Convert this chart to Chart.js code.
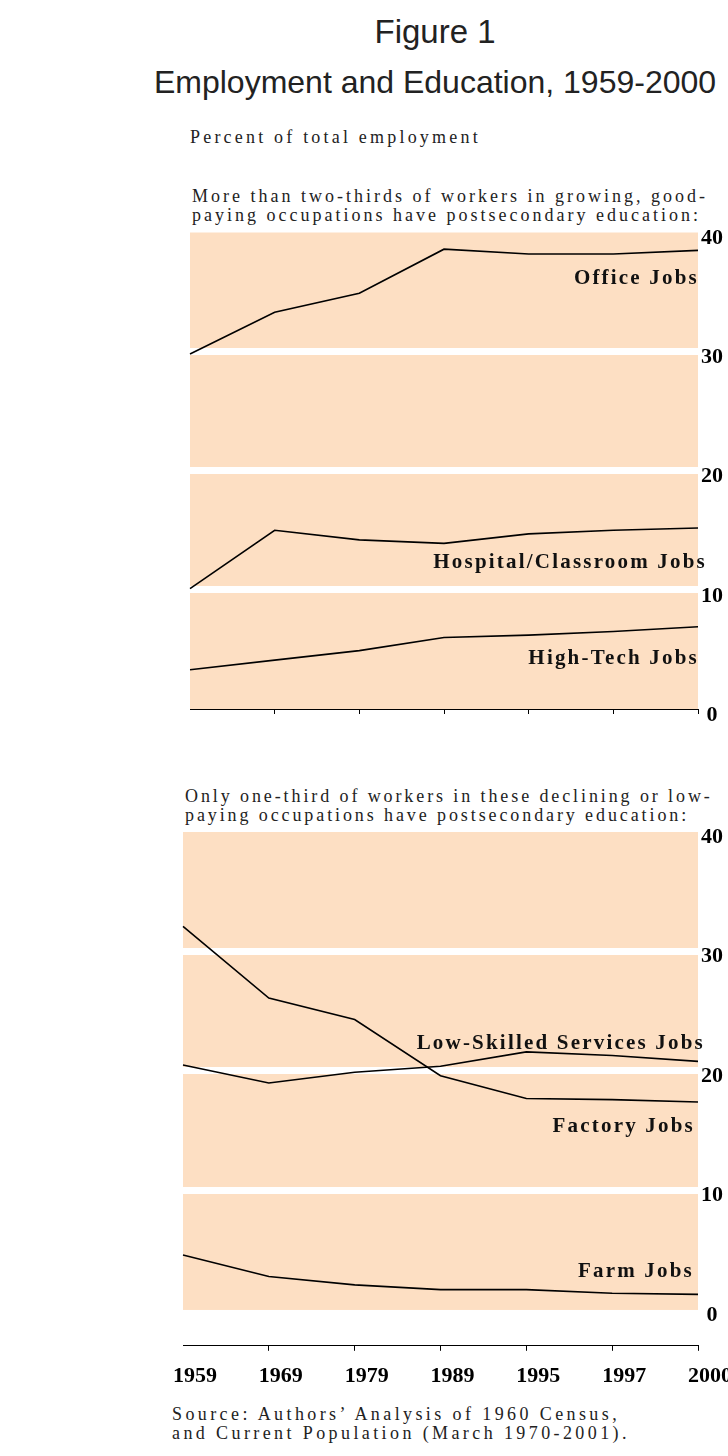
<!DOCTYPE html>
<html>
<head>
<meta charset="utf-8">
<script src="https://cdn.jsdelivr.net/npm/chart.js@4.4.0/dist/chart.umd.min.js"></script>
<style>
  html, body { margin: 0; padding: 0; background: #fff; }
  body { width: 728px; height: 1456px; position: relative; overflow: hidden; }
  .t { position: absolute; white-space: nowrap; color: #222; }
  .title { font-family: 'Liberation Sans', Arial, sans-serif; left: 0; width: 870px; text-align: center; line-height: 36px; }
  .note { font-family: 'Liberation Serif', 'Times New Roman', serif; font-size: 18px; letter-spacing: 3px; line-height: 19px; }
  .lbl { font-family: 'Liberation Serif', 'Times New Roman', serif; font-weight: bold; font-size: 21px; letter-spacing: 2.2px; line-height: 24px; color: #111; }
  .box { position: absolute; left: 0; }
</style>
</head>
<body>
<div class="t title" style="top:14px; font-size:33px;">Figure 1</div>
<div class="t title" style="top:64px; font-size:32px;">Employment and Education, 1959-2000</div>
<div class="t note" style="left:190px; top:128px; letter-spacing:3.2px;">Percent of total employment</div>
<div class="t note" style="left:192px; top:187px;">More than two-thirds of workers in growing, good-<br>paying occupations have postsecondary education:</div>
<div class="t note" style="left:185px; top:787px; letter-spacing:2.9px;">Only one-third of workers in these declining or low-<br>paying occupations have postsecondary education:</div>
<div class="t note" style="left:172px; top:1405px; letter-spacing:3.4px;">Source: Authors’ Analysis of 1960 Census,<br>and Current Population (March 1970-2001).</div>

<div class="box" style="top:200px;"><canvas id="topChart" width="728" height="540"></canvas></div>
<div class="box" style="top:800px;"><canvas id="bottomChart" width="728" height="610"></canvas></div>

<div class="t lbl" style="right:29px; top:265px;">Office Jobs</div>
<div class="t lbl" style="right:21px; top:549px;">Hospital/Classroom Jobs</div>
<div class="t lbl" style="right:29px; top:645px;">High-Tech Jobs</div>
<div class="t lbl" style="right:23px; top:1030px;">Low-Skilled Services Jobs</div>
<div class="t lbl" style="right:33px; top:1113px;">Factory Jobs</div>
<div class="t lbl" style="right:34px; top:1258px;">Farm Jobs</div>

<script>
const years = ['1959', '1969', '1979', '1989', '1995', '1997', '2000'];
const yTicks = [0, 10, 20, 30, 40];

// growing, good-paying occupations (percent of total employment)
const officeJobs   = [29.8, 33.3, 34.9, 38.6, 38.2, 38.2, 38.5];
const hospitalJobs = [10.1, 15.0, 14.2, 13.9, 14.7, 15.0, 15.2];
const highTechJobs = [3.3, 4.1, 4.9, 6.0, 6.2, 6.5, 6.9];

// declining or low-paying occupations
const factoryJobs  = [32.1, 26.1, 24.3, 19.6, 17.7, 17.6, 17.4];
const lowSkillJobs = [20.5, 19.0, 19.9, 20.4, 21.6, 21.3, 20.8];
const farmJobs     = [4.6, 2.8, 2.1, 1.7, 1.7, 1.4, 1.3];

const peach = '#fddfc3';

const bandFill = {
    id: 'bandFill',
    beforeDraw(chart) {
        const { ctx, chartArea, scales } = chart;
        const top = scales.y.getPixelForValue(40);
        const bottom = scales.y.getPixelForValue(0);
        ctx.save();
        ctx.fillStyle = peach;
        ctx.fillRect(chartArea.left, top, chartArea.right - chartArea.left, bottom - top);
        ctx.restore();
    }
};

function line(data) {
    return {
        data: data,
        borderColor: '#000',
        borderWidth: 1.6,
        pointRadius: 0,
        tension: 0,
        fill: false,
        clip: false,
    };
}

function makeChart(id, series, opts) {
    return new Chart(document.getElementById(id), {
        type: 'line',
        data: { labels: years, datasets: series.map(line) },
        options: {
            responsive: false,
            animation: false,
            events: [],
            layout: { padding: opts.padding },
            plugins: { legend: { display: false }, tooltip: { enabled: false } },
            scales: {
                x: {
                    offset: false,
                    border: { display: true, color: '#000', width: 1 },
                    afterFit: s => {
                        s.height = opts.xHeight;
                        s.paddingLeft = 0;
                        s.paddingRight = 0;
                    },
                    grid: {
                        drawOnChartArea: false,
                        drawTicks: true,
                        tickLength: 5,
                        color: c => c.index === 0 ? 'rgba(0,0,0,0)' : '#000',
                    },
                    ticks: {
                        display: opts.showYears,
                        autoSkip: false,
                        maxRotation: 0,
                        padding: 12,
                        labelOffset: 12,
                        color: '#000',
                        font: { family: 'Liberation Serif', size: 22, weight: 'bold' },
                    },
                },
                y: {
                    position: 'right',
                    min: opts.min,
                    max: 40,
                    border: { display: false },
                    afterBuildTicks: s => { s.ticks = yTicks.map(v => ({ value: v })); },
                    afterFit: s => { s.width = 30; },
                    grid: {
                        drawTicks: false,
                        lineWidth: 7,
                        color: c => (c.tick && c.tick.value > 0 && c.tick.value < 40) ? '#fff' : 'rgba(0,0,0,0)',
                    },
                    ticks: {
                        padding: 3,
                        crossAlign: 'center',
                        labelOffset: opts.labelOffset,
                        color: '#000',
                        font: { family: 'Liberation Serif', size: 22, weight: 'bold' },
                    },
                },
            },
        },
        plugins: [bandFill],
    });
}

makeChart('topChart', [officeJobs, hospitalJobs, highTechJobs], {
    padding: { left: 190, right: 0, top: 32.5, bottom: 26 },
    xHeight: 5,
    min: 0,
    showYears: false,
    labelOffset: 6,
});

makeChart('bottomChart', [factoryJobs, lowSkillJobs, farmJobs], {
    padding: { left: 183, right: 0, top: 32, bottom: 19.2 },
    xHeight: 45,
    min: -3,
    showYears: true,
    labelOffset: 5,
});
</script>
</body>
</html>
